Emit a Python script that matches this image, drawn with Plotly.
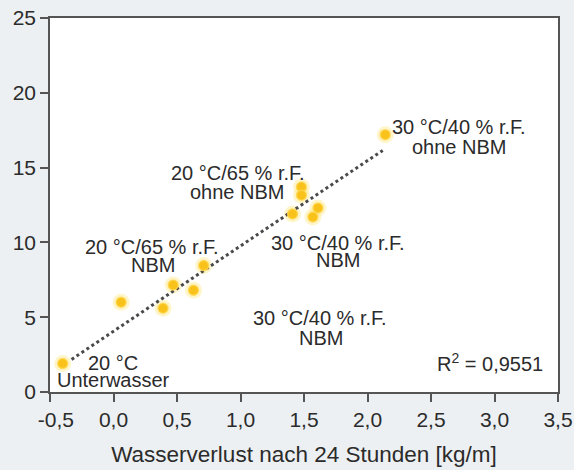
import plotly.graph_objects as go

# Data
water_loss = [-0.40, 0.06, 0.39, 0.47, 0.63, 0.71, 1.41, 1.48, 1.48, 1.57, 1.61, 2.14]
strength = [1.9, 6.0, 5.6, 7.15, 6.8, 8.45, 11.9, 13.7, 13.15, 11.7, 12.3, 17.2]

trend_x = [-0.33, 2.12]
trend_y = [2.18, 16.15]

x_ticks = [-0.5, 0.0, 0.5, 1.0, 1.5, 2.0, 2.5, 3.0, 3.5]
x_tick_labels = ["\u00a0\u00a0-0,5", "0,0", "0,5", "1,0", "1,5", "2,0", "2,5", "3,0", "3,5"]
y_ticks = [0, 5, 10, 15, 20, 25]

x_title = "Wasserverlust nach 24 Stunden [kg/m]"
r2_text = "R<sup>2</sup> = 0,9551"

# label lines: (text, x, y)
label_lines = [
    ("30 °C/40 % r.F.", 2.724, 17.71),
    ("ohne NBM", 2.724, 16.38),
    ("20 °C/65 % r.F.", 0.980, 14.64),
    ("ohne NBM", 0.976, 13.37),
    ("20 °C/65 % r.F.", 0.303, 9.69),
    ("NBM", 0.311, 8.49),
    ("30 °C/40 % r.F.", 1.764, 9.96),
    ("NBM", 1.768, 8.82),
    ("30 °C/40 % r.F.", 1.624, 4.93),
    ("NBM", 1.630, 3.63),
    ("20 °C", -0.004, 1.94),
    ("Unterwasser", 0.0, 0.80),
]

FONT = "Liberation Sans, Arial, Helvetica, sans-serif"
TXT = "#2b2b2b"
BG = "#edf0f2"

fig = go.Figure()

# soft halo behind points
fig.add_trace(go.Scatter(
    x=water_loss, y=strength, mode="markers",
    marker=dict(size=17, color="rgba(255,232,140,0.45)", line=dict(width=0)),
    hoverinfo="skip", showlegend=False,
))
fig.add_trace(go.Scatter(
    x=trend_x, y=trend_y, mode="lines",
    line=dict(color="#4a4a4a", width=3, dash="3px,3px"),
    showlegend=False,
))
fig.add_trace(go.Scatter(
    x=water_loss, y=strength, mode="markers",
    marker=dict(size=10, color="#f9c21a", line=dict(width=1.5, color="rgba(255,215,80,0.8)")),
    showlegend=False,
))

annotations = []
for text, x, y in label_lines:
    annotations.append(dict(
        x=x, y=y, xref="x", yref="y", text=text, showarrow=False,
        xanchor="center", yanchor="middle",
        font=dict(family=FONT, size=20, color=TXT),
    ))
annotations.append(dict(
    x=3.398, y=1.94, xref="x", yref="y", text=r2_text, showarrow=False,
    xanchor="right", yanchor="middle",
    font=dict(family=FONT, size=20, color=TXT),
))

fig.update_layout(
    width=574, height=470,
    margin=dict(l=50, r=16, t=18, b=78),
    paper_bgcolor=BG,
    plot_bgcolor="#ffffff",
    font=dict(family=FONT, size=21, color=TXT),
    annotations=annotations,
    xaxis=dict(
        range=[-0.5, 3.5], tickvals=x_ticks, ticktext=x_tick_labels,
        showgrid=False, zeroline=False, automargin=False,
        showline=True, linecolor="#555555", linewidth=1.5, mirror=True,
        ticks="outside", ticklen=8, tickwidth=1.5, tickcolor="#555555",
        tickfont=dict(size=21),
        title=dict(text=x_title, font=dict(size=22.5), standoff=16),
    ),
    yaxis=dict(
        range=[0, 25], tickvals=y_ticks,
        showgrid=False, zeroline=False, automargin=False,
        showline=True, linecolor="#555555", linewidth=1.5, mirror=True,
        ticks="outside", ticklen=8, tickwidth=1.5, tickcolor="#555555",
        tickfont=dict(size=21),
    ),
)

fig.write_html(
    "out.html",
    config={"displayModeBar": False},
    post_script="document.body.style.margin='0';document.body.style.background='" + BG + "';",
)
